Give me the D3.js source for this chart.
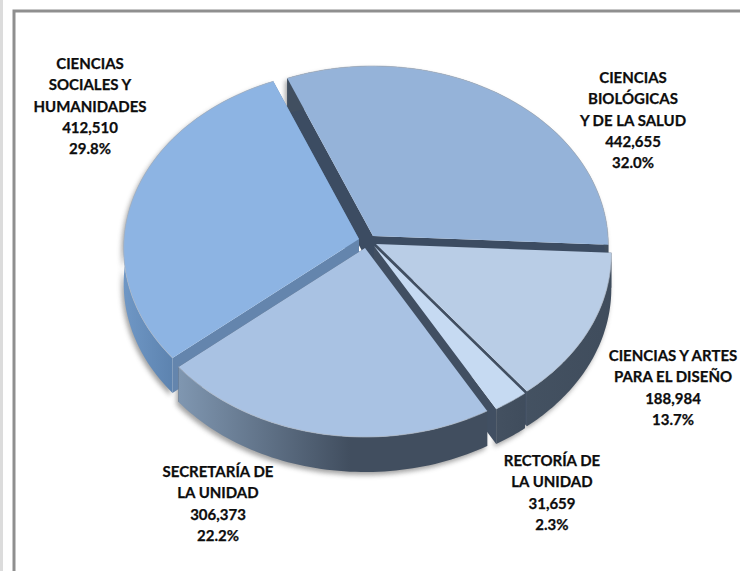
<!DOCTYPE html>
<html><head><meta charset="utf-8">
<script src="https://cdnjs.cloudflare.com/ajax/libs/d3/7.8.5/d3.min.js"></script>
<style>html,body{margin:0;padding:0;background:#fff}svg{display:block}</style>
</head><body><div id="c"></div>
<script>
// DATA (clockwise from the back of the pie)
const categories = [
  ["CIENCIAS","BIOLÓGICAS","Y DE LA SALUD"],
  ["CIENCIAS Y ARTES","PARA EL DISEÑO"],
  ["RECTORÍA DE","LA UNIDAD"],
  ["SECRETARÍA DE","LA UNIDAD"],
  ["CIENCIAS","SOCIALES Y","HUMANIDADES"]
];
const values = [442655, 188984, 31659, 306373, 412510];
const percents = ["32.0%","13.7%","2.3%","22.2%","29.8%"];

// STYLE / LAYOUT
const topColors = ["#95b3d9","#b9cde6","#c6daf2","#a9c2e3","#8db4e3"];
const cutColors = ["#3c4c62","#414f62","#414f62","#414f62","#6485ad"];
const wallStops = [
  ["#414f60","#414f60"],["#465464","#3f4c5c"],["#465363","#3f4c5c"],
  ["#7f96b0","#414e5f"],["#6f97c5","#5a80ac"]
];
const wallRange = [[300,610],[480,620],[480,530],[180,350],[124,180]];
const centers = [[373,236],[376,244],[374,246],[365,248],[359,239]];
const labelAnchors = [[633,78],[673,356],[552,461],[218,472],[90,64]];
const paintOrder = [0,4,1,2,3];
const W=740,H=571, Rx=235, Ry=179, persp=.053, depth=35;

const svg=d3.select("#c").append("svg").attr("width",W).attr("height",H);
const defs=svg.append("defs");
defs.append("filter").attr("id","blur").attr("x","-10%").attr("y","-10%").attr("width","120%").attr("height","120%")
  .append("feGaussianBlur").attr("stdDeviation",2.5);

// frame: left strip, then a rule along the top and the left only
svg.append("rect").attr("width",3).attr("height",H).attr("fill","#dcdcdc");
const frame=d3.line()([[14,H],[14,11],[W,11]]);
svg.append("path").attr("d",frame).attr("fill","none").attr("stroke","#8f8f8f").attr("stroke-width",3);

const pie=d3.pie().sort(null).startAngle(-22.5*Math.PI/180).endAngle((360-22.5)*Math.PI/180);
const arcs=pie(values);

const project=(c,t,dz=0)=>{
  const X=Math.sin(t),Y=-Math.cos(t),s=1/(1-persp*Y);
  return [c[0]+X*Rx*s, c[1]+Y*Ry*s+dz];
};
const line=d3.line();
const arcPts=(c,a,dz)=>d3.range(0,61).map(i=>project(c,a.startAngle+(a.endAngle-a.startAngle)*i/60,dz));
const apex=(c,dz=0)=>[c[0],c[1]+dz];
const topPath=(c,a)=>line([apex(c),...arcPts(c,a,0)])+"Z";
const outerWall=(c,a)=>{
  const up=arcPts(c,a,0),down=arcPts(c,a,depth).reverse();
  return line([...up,...down])+"Z";
};
const cutWall=(c,t)=>line([apex(c),project(c,t),project(c,t,depth),apex(c,depth)])+"Z";

// gradients
arcs.forEach((a,i)=>{
  const g=defs.append("linearGradient").attr("id","w"+i).attr("gradientUnits","userSpaceOnUse")
    .attr("x1",wallRange[i][0]).attr("x2",wallRange[i][1]).attr("y1",0).attr("y2",0);
  g.append("stop").attr("offset",0).attr("stop-color",wallStops[i][0]);
  g.append("stop").attr("offset",1).attr("stop-color",wallStops[i][1]);
});

// soft shadow
const sh=svg.append("g").attr("filter","url(#blur)").attr("transform","translate(-2,3)").attr("opacity",.55);
arcs.forEach((a,i)=>sh.append("path").attr("d",outerWall(centers[i],a)).attr("fill","#555"));

paintOrder.forEach(i=>{
  const a=arcs[i],c=centers[i],g=svg.append("g");
  g.append("path").attr("d",cutWall(c,a.startAngle)).attr("fill",cutColors[i]);
  g.append("path").attr("d",cutWall(c,a.endAngle)).attr("fill",cutColors[i]);
  g.append("path").attr("d",outerWall(c,a)).attr("fill",`url(#w${i})`);
  g.append("path").attr("d",topPath(c,a)).attr("fill",topColors[i]);
  g.append("path").attr("d",line(arcPts(c,a,0))).attr("fill","none").attr("stroke","#aab4c0").attr("stroke-opacity",.7).attr("stroke-width",1);
});

// labels
const fmt=d3.format(",");
arcs.forEach((a,i)=>{
  const lines=[...categories[i],fmt(values[i]),percents[i]];
  const t=svg.append("text").attr("text-anchor","middle").attr("font-family","Lato, 'Open Sans', sans-serif")
    .attr("font-weight",700).attr("font-size",15).attr("fill","#0d0d0d").attr("stroke","#0d0d0d").attr("stroke-width",.25);
  lines.forEach((l,j)=>t.append("tspan").attr("x",labelAnchors[i][0]).attr("y",labelAnchors[i][1]+j*21.3+5).text(l));
});
</script></body></html>
